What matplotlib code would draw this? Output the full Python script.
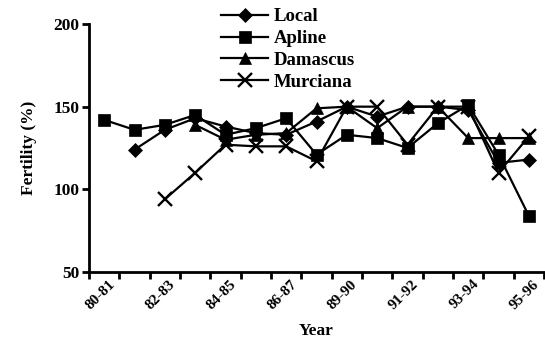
import numpy as np
import matplotlib
matplotlib.use("Agg")
import matplotlib.pyplot as plt
import matplotlib.transforms as mtransforms

# season labels (one season skipped in the source chart)
years = ["80-81", "81-82", "82-83", "83-84", "84-85", "85-86", "86-87", "87-88",
         "89-90", "90-91", "91-92", "92-93", "93-94", "94-95", "95-96"]

nan = np.nan
local = [nan, 124, 136, 143, 138, 134, 133, 141, 150, 144, 150, 150, 148, 116, 118]
apline = [142, 136, 139, 145, 133, 137, 143, 121, 133, 131, 125, 140, 151, 121, 84]
damascus = [nan, nan, nan, 139, 130, 133, 134, 149, 150, 137, 150, 150, 131, 131, 131]
murciana = [nan, nan, 94, 110, 127, 126, 126, 117, 150, 150, 127, 150, 150, 110, 132]

plt.rcParams['font.family'] = ['Liberation Serif', 'DejaVu Serif']
plt.rcParams['font.weight'] = 'bold'

fig = plt.figure(figsize=(5.45, 3.43), dpi=100)
ax = fig.add_axes([89 / 545, 1 - 272 / 343, 455 / 545, 248 / 343])

x = np.arange(len(years))
series = [("Local", local, "D", 7.5), ("Apline", apline, "s", 8),
          ("Damascus", damascus, "^", 9), ("Murciana", murciana, "x", 9.5)]
for name, vals, mk, ms in series:
    ax.plot(x, vals, color="black", lw=1.6, marker=mk, markersize=ms,
            markeredgewidth=1.7 if mk == "x" else 0.5, markerfacecolor="black",
            markeredgecolor="black", label=name)

ax.set_xlim(-0.5, len(years) - 0.5)
ax.set_ylim(50, 200)
ax.set_yticks([50, 100, 150, 200])

for side in ["top", "right"]:
    ax.spines[side].set_visible(False)
for side in ["left", "bottom"]:
    ax.spines[side].set_linewidth(2)

# ticks at category boundaries, labels on every other season
ax.set_xticks(np.arange(-0.5, len(years)), minor=True)
ax.set_xticks(x[::2])
ax.set_xticklabels(years[::2], rotation=45, ha="right", va="top",
                   rotation_mode="anchor", fontsize=11, fontweight="bold")
ax.tick_params(axis="x", which="major", length=0, pad=4)
ax.tick_params(axis="x", which="minor", length=5, width=2, direction="out")
ax.tick_params(axis="y", length=5, width=2, direction="out", labelsize=12.5, pad=2)

offset = mtransforms.ScaledTranslation(4 / 100, 0, fig.dpi_scale_trans)
for lab in ax.get_xticklabels():
    lab.set_transform(lab.get_transform() + offset)

ax.set_ylabel("Fertility (%)", fontsize=12.5, fontweight="bold", labelpad=12)
ax.set_xlabel("Year", fontsize=12.5, fontweight="bold", labelpad=8)

fig.legend(loc="upper left", bbox_to_anchor=(208 / 545, 1 + 5 / 343),
           frameon=False, fontsize=13.5, handlelength=2.5, handletextpad=0.3,
           labelspacing=0.25, borderpad=0.2)

fig.savefig("out.png", dpi=100)
